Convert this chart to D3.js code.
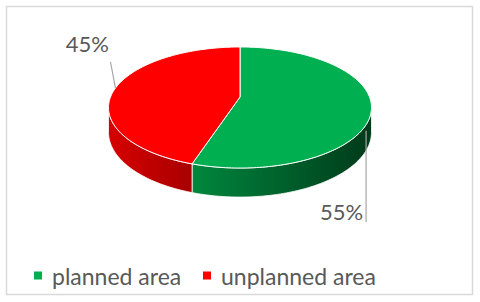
<!DOCTYPE html>
<html>
<head>
<meta charset="utf-8">
<script src="https://cdn.jsdelivr.net/npm/d3@7"></script>
<style>
  body { margin: 0; background: #fff; }
  text { font-family: Lato, "Open Sans", sans-serif; fill: #595959; }
</style>
</head>
<body>
<div id="chart"></div>
<script>
var categories = ['planned area', 'unplanned area']
var values = [55, 45]
var pctLabels = ['55%', '45%']
var colors = ['#00b050', '#ff0000']

var width = 480
var height = 302

// perspective pie: centre of the disc, half-sizes and tilt strength
var cx = 240, cy = 97
var B = 129.5, A = 58.7, k = 0.1736, depth = 24

var svg = d3.select('#chart').append('svg')
    .attr('width', width)
    .attr('height', height)

svg.append('rect')
    .attr('x', 6.5).attr('y', 6.5)
    .attr('width', 466).attr('height', 288)
    .style('fill', '#fff')
    .style('stroke', '#d9d9d9')
    .style('stroke-width', 1.5)

// angle 0 = 12 o'clock, clockwise
function proj(a, r, z) {
    var u = r * Math.sin(a), v = -r * Math.cos(a)
    var w = 1 - k * v
    return [cx + B * u / w, cy + A * v / w + z * depth / w]
}

function arcPts(a0, a1, r, z) {
    var n = Math.max(2, Math.ceil(Math.abs(a1 - a0) / 0.02))
    return d3.range(n + 1).map(i => proj(a0 + (a1 - a0) * i / n, r, z))
}

var line = d3.line()

var pie = d3.pie().sort(null)
var arcs = pie(values)

// side gradients
var defs = svg.append('defs')
var gradStops = [
    [['0%', '#00873d'], ['55%', '#005d2a'], ['100%', '#003a1a']],
    [['0%', '#d60000'], ['100%', '#a80000']]
]

// visible front of the rim lies between the two silhouette angles
var sil0 = Math.acos(-k), sil1 = 2 * Math.PI - Math.acos(-k)

arcs.forEach(function(d, i) {
    var a0 = Math.max(d.startAngle, sil0), a1 = Math.min(d.endAngle, sil1)
    if (a1 <= a0) return
    var top = arcPts(a0, a1, 1, 0)
    var bot = arcPts(a1, a0, 1, 1)
    var xs = top.concat(bot).map(p => p[0])
    var g = defs.append('linearGradient')
        .attr('id', 'side' + i)
        .attr('gradientUnits', 'userSpaceOnUse')
        .attr('x1', d3.min(xs)).attr('x2', d3.max(xs))
        .attr('y1', 0).attr('y2', 0)
    gradStops[i].forEach(s => g.append('stop').attr('offset', s[0]).attr('stop-color', s[1]))
    svg.append('path')
        .attr('d', line(top.concat(bot)) + 'Z')
        .style('fill', 'url(#side' + i + ')')
        .style('stroke', '#fff')
        .style('stroke-width', 0.8)
})

// top faces
arcs.forEach(function(d, i) {
    var pts = [proj(0, 0, 0)].concat(arcPts(d.startAngle, d.endAngle, 1, 0))
    svg.append('path')
        .attr('d', line(pts) + 'Z')
        .style('fill', colors[i])
        .style('stroke', '#fff')
        .style('stroke-width', 1)
        .style('stroke-linejoin', 'round')
})

// data labels with leader lines
var labelPos = [
    { r: 0.96, z: 1, tx: 320, ty: 220, lx: 366.5, ly: 222, anchor: 'start' },
    { r: 1, z: 0, tx: 109, ty: 52, lx: 110.5, ly: 62, anchor: 'end' }
]
arcs.forEach(function(d, i) {
    var mid = (d.startAngle + d.endAngle) / 2
    var p = proj(mid, labelPos[i].r, labelPos[i].z)
    var L = labelPos[i]
    svg.append('line')
        .attr('x1', p[0]).attr('y1', p[1])
        .attr('x2', i === 0 ? p[0] : L.lx).attr('y2', L.ly)
        .style('stroke', '#a6a6a6')
        .style('stroke-width', 1.2)
    svg.append('text')
        .attr('x', L.tx).attr('y', L.ty)
        .attr('text-anchor', L.anchor)
        .attr('font-size', 22)
        .text(pctLabels[i])
})

// legend
var legendX = [34, 203]
var leg = svg.selectAll('g.legend')
    .data(categories)
    .enter().append('g')
    .attr('class', 'legend')
    .attr('transform', (d, i) => 'translate(' + legendX[i] + ',0)')

leg.append('rect')
    .attr('x', 0).attr('y', 271.5)
    .attr('width', 8).attr('height', 8)
    .style('fill', (d, i) => colors[i])

leg.append('text')
    .attr('x', 18).attr('y', 285)
    .attr('font-size', 23)
    .text(d => d)
</script>
</body>
</html>
